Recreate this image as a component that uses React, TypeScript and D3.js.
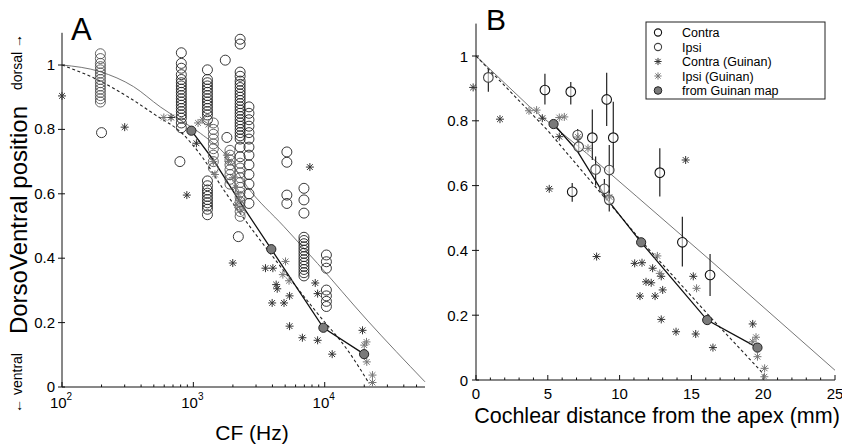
import { useEffect, useRef } from "react";
import * as d3 from "d3";

// ---------- Panel A : position vs CF (Hz) ----------
// columns of open circles: cf, y values, ipsi flag
const colsA = [
  { cf: 196, ipsi: true, ys: [1.035, 1.02, 1.005, 0.995, 0.985, 0.975, 0.965, 0.955, 0.945, 0.935, 0.925, 0.915, 0.905, 0.895, 0.885] },
  { cf: 200, ipsi: false, ys: [0.79] },
  { cf: 810, ipsi: false, ys: [1.038, 1.005, 0.99, 0.97, 0.955, 0.945, 0.935, 0.925, 0.915, 0.905, 0.895, 0.885, 0.875, 0.865, 0.855, 0.845, 0.835, 0.82, 0.805] },
  { cf: 790, ipsi: false, ys: [0.7] },
  { cf: 1280, ipsi: false, ys: [0.985, 0.955, 0.945, 0.935, 0.925, 0.915, 0.905, 0.895, 0.885, 0.875, 0.865, 0.855, 0.845, 0.83] },
  { cf: 1280, ipsi: false, ys: [0.64, 0.625, 0.612, 0.602, 0.592, 0.582, 0.572, 0.562, 0.552, 0.535] },
  { cf: 1420, ipsi: true, ys: [0.82, 0.8, 0.785, 0.77, 0.755, 0.74, 0.72, 0.7, 0.68] },
  { cf: 1750, ipsi: false, ys: [1.015] },
  { cf: 1800, ipsi: false, ys: [0.775] },
  { cf: 1900, ipsi: true, ys: [0.735, 0.72, 0.705, 0.69, 0.675, 0.66, 0.645, 0.63] },
  { cf: 2270, ipsi: false, ys: [1.08, 1.065, 0.978, 0.965, 0.95, 0.94, 0.93, 0.92, 0.91, 0.9, 0.89, 0.88, 0.87, 0.86, 0.85, 0.84, 0.83, 0.82, 0.81, 0.8, 0.79, 0.78, 0.77, 0.745, 0.715] },
  { cf: 2270, ipsi: true, ys: [0.695, 0.68, 0.665, 0.65, 0.635, 0.62, 0.605, 0.59, 0.575, 0.56, 0.545, 0.53] },
  { cf: 2200, ipsi: false, ys: [0.467] },
  { cf: 2650, ipsi: false, ys: [0.87, 0.85, 0.83, 0.81, 0.79, 0.77, 0.745, 0.72, 0.69, 0.66, 0.63, 0.6, 0.57] },
  { cf: 5150, ipsi: false, ys: [0.73, 0.698, 0.596, 0.57] },
  { cf: 6950, ipsi: false, ys: [0.617, 0.581, 0.54, 0.465, 0.455, 0.445, 0.435, 0.425, 0.415, 0.405, 0.395, 0.385, 0.375, 0.365, 0.355, 0.345] },
  { cf: 10300, ipsi: false, ys: [0.41, 0.389, 0.369, 0.301, 0.283, 0.266, 0.25] },
];

const guinanContraA: [number, number][] = [
  [100, 0.904], [300, 0.807], [676, 0.837], [892, 0.596], [1055, 0.757], [1995, 0.385],
  [3540, 0.369], [4030, 0.369], [4270, 0.318], [4350, 0.305], [3980, 0.261], [4900, 0.261],
  [5400, 0.283], [8470, 0.323], [8830, 0.29], [5400, 0.189], [6760, 0.153], [8830, 0.145],
  [11400, 0.102], [7710, 0.683], [19400, 0.176],
];
const guinanIpsiA: [number, number][] = [
  [596, 0.837], [1086, 0.82], [1180, 0.83], [1300, 0.815], [1420, 0.7], [1460, 0.66],
  [1800, 0.72], [1850, 0.7], [2000, 0.65], [2100, 0.62], [2200, 0.6], [2250, 0.58],
  [2300, 0.55], [2150, 0.565], [5030, 0.39], [4800, 0.349], [5350, 0.33], [20800, 0.14],
  [20000, 0.13], [20900, 0.078], [23100, 0.037], [23100, 0.014],
];
const mapDotsA: [number, number][] = [[966, 0.796], [3920, 0.428], [9770, 0.184], [19950, 0.102]];
const solidLineA: [number, number][] = [[966, 0.796], [1420, 0.705], [2300, 0.57], [3920, 0.428], [9770, 0.184], [19950, 0.102]];
const dashedLineA: [number, number][] = [
  [100, 1.0], [189, 0.953], [321, 0.9], [513, 0.845], [820, 0.788], [1164, 0.715],
  [1704, 0.612], [4900, 0.36], [8790, 0.229], [14900, 0.115], [21800, 0.011],
];
const thinLineA: [number, number][] = [
  [100, 1.0], [196, 0.979], [350, 0.933], [560, 0.87], [795, 0.829], [1130, 0.788],
  [1810, 0.715], [2570, 0.622], [4900, 0.498], [8800, 0.384], [21000, 0.208], [58000, 0.016],
];

// ---------- Panel B : position vs cochlear distance (mm) ----------
// x, y, error low, error high
const contraB: [number, number, number, number][] = [
  [4.8, 0.895, 0.85, 0.945], [6.6, 0.89, 0.85, 0.92], [9.1, 0.866, 0.784, 0.948],
  [8.1, 0.748, 0.679, 0.835], [9.56, 0.748, 0.638, 0.859], [12.8, 0.64, 0.566, 0.715],
  [14.37, 0.425, 0.35, 0.504], [16.3, 0.324, 0.259, 0.389], [6.7, 0.581, 0.55, 0.608],
];
const ipsiB: [number, number, number, number][] = [
  [0.86, 0.934, 0.89, 0.96], [7.08, 0.756, 0.735, 0.775], [7.15, 0.72, 0.7, 0.74],
  [8.33, 0.65, 0.6, 0.69], [9.28, 0.648, 0.576, 0.725], [8.94, 0.59, 0.56, 0.62],
  [9.28, 0.556, 0.52, 0.6],
];
const guinanContraB: [number, number][] = [
  [-0.2, 0.903], [1.67, 0.805], [5.1, 0.59], [8.4, 0.381], [11.05, 0.36], [11.56, 0.362],
  [12.3, 0.345], [11.84, 0.303], [12.2, 0.3], [11.42, 0.259], [12.47, 0.259], [13.0, 0.278],
  [12.9, 0.32], [15.13, 0.32], [12.9, 0.187], [13.93, 0.149], [15.3, 0.142], [16.5, 0.1],
  [14.6, 0.679], [19.27, 0.173], [5.8, 0.751], [4.62, 0.808],
];
const guinanIpsiB: [number, number][] = [
  [3.69, 0.831], [4.22, 0.833], [5.8, 0.81], [6.15, 0.812], [7.8, 0.715], [12.63, 0.383],
  [12.8, 0.329], [15.36, 0.283], [19.5, 0.132], [19.27, 0.118], [19.6, 0.072], [20.1, 0.036],
  [20.08, 0.01], [9.3, 0.565], [7.1, 0.75],
];
const mapDotsB: [number, number][] = [[5.4, 0.79], [11.5, 0.425], [16.1, 0.185], [19.6, 0.1]];
const solidLineB: [number, number][] = [[5.4, 0.79], [7.0, 0.71], [9.1, 0.56], [11.5, 0.425], [16.1, 0.185], [19.6, 0.1]];
const dashedLineB: [number, number][] = [[0, 1.0], [5, 0.77], [11.5, 0.43], [16.2, 0.2], [20.1, 0.015]];
const thinLineB: [number, number][] = [[0, 1.0], [3.7, 0.845], [7.7, 0.7], [11.2, 0.566], [16.3, 0.37], [25, 0.03]];

const yTicks = [0, 0.2, 0.4, 0.6, 0.8, 1];
const yTickLabels = ["0", "0.2", "0.4", "0.6", "0.8", "1"];
const xDecadesA = [100, 1000, 10000];
const xDecadeExp = ["2", "3", "4"];
const xTicksB = [0, 5, 10, 15, 20, 25];
const legendLabels = ["Contra", "Ipsi", "Contra (Guinan)", "Ipsi (Guinan)", "from Guinan map"];

const FONT = "'Liberation Sans', Arial, Helvetica, sans-serif";

function asterisk(cx: number, cy: number, r: number) {
  const d = r * 0.72;
  return `M${cx - r},${cy}h${2 * r}M${cx},${cy - r}v${2 * r}M${cx - d},${cy - d}l${2 * d},${2 * d}M${cx - d},${cy + d}l${2 * d},${-2 * d}`;
}

export default function App() {
  const ref = useRef<SVGSVGElement>(null);

  useEffect(() => {
    const svg = d3.select(ref.current);
    svg.selectAll("*").remove();
    svg.attr("font-family", FONT);

    const xA = d3.scaleLog().domain([100, 58000]).range([62, 425]);
    const yA = d3.scaleLinear().domain([0, 1.1]).range([387, 32.8]);
    const xB = d3.scaleLinear().domain([0, 25]).range([476, 835]);
    const yB = d3.scaleLinear().domain([0, 1.1]).range([380, 23.6]);

    // ---- axes A ----
    const gA = svg.append("g");
    gA.append("line").attr("x1", 62).attr("x2", 62).attr("y1", yA(1.1)).attr("y2", yA(0)).attr("stroke", "#111");
    gA.append("line").attr("x1", 62).attr("x2", 425).attr("y1", yA(0)).attr("y2", yA(0)).attr("stroke", "#111");
    yTicks.forEach((t, i) => {
      gA.append("line").attr("x1", 58).attr("x2", 65).attr("y1", yA(t)).attr("y2", yA(t)).attr("stroke", "#111");
      gA.append("text").attr("x", 55).attr("y", yA(t) + 5).attr("text-anchor", "end")
        .attr("font-size", 15).text(yTickLabels[i]);
    });
    const minorA: number[] = [];
    [100, 1000, 10000].forEach((dec) => {
      for (let k = 2; k <= 9; k++) if (dec * k <= 58000) minorA.push(dec * k);
    });
    minorA.forEach((t) => {
      gA.append("line").attr("x1", xA(t)).attr("x2", xA(t)).attr("y1", yA(0)).attr("y2", yA(0) - 2.5).attr("stroke", "#111");
    });
    xDecadesA.forEach((t, i) => {
      gA.append("line").attr("x1", xA(t)).attr("x2", xA(t)).attr("y1", yA(0)).attr("y2", yA(0) - 5).attr("stroke", "#111");
      const tx = gA.append("text").attr("x", xA(t) - 1).attr("y", 408).attr("text-anchor", "middle").attr("font-size", 15);
      tx.append("tspan").text("10");
      tx.append("tspan").attr("font-size", 10).attr("dy", -8).text(xDecadeExp[i]);
    });
    gA.append("text").attr("x", 252).attr("y", 440).attr("text-anchor", "middle").attr("font-size", 21).text("CF (Hz)");
    gA.append("text").attr("transform", "translate(27,220) rotate(-90)").attr("text-anchor", "middle")
      .attr("font-size", 24).text("DorsoVentral position");
    gA.append("text").attr("transform", "translate(22,62) rotate(-90)").attr("text-anchor", "middle")
      .attr("font-size", 14).text("dorsal \u2192");
    gA.append("text").attr("transform", "translate(22,383) rotate(-90)").attr("text-anchor", "middle")
      .attr("font-size", 14).text("\u2190 ventral");
    gA.append("text").attr("x", 71).attr("y", 40).attr("font-size", 31).text("A");

    // ---- axes B ----
    const gB = svg.append("g");
    gB.append("line").attr("x1", 476).attr("x2", 476).attr("y1", yB(1.1)).attr("y2", yB(0)).attr("stroke", "#111");
    gB.append("line").attr("x1", 476).attr("x2", 835).attr("y1", yB(0)).attr("y2", yB(0)).attr("stroke", "#111");
    yTicks.forEach((t, i) => {
      gB.append("line").attr("x1", 472).attr("x2", 479).attr("y1", yB(t)).attr("y2", yB(t)).attr("stroke", "#111");
      gB.append("text").attr("x", 468).attr("y", yB(t) + 5.5).attr("text-anchor", "end")
        .attr("font-size", 15).text(yTickLabels[i]);
    });
    d3.range(0, 26).forEach((t) => {
      gB.append("line").attr("x1", xB(t)).attr("x2", xB(t)).attr("y1", yB(0)).attr("y2", yB(0) - (t % 5 === 0 ? 5 : 2.5)).attr("stroke", "#111");
    });
    xTicksB.forEach((t) => {
      gB.append("text").attr("x", xB(t)).attr("y", 399).attr("text-anchor", "middle").attr("font-size", 15).text(String(t));
    });
    gB.append("text").attr("x", 657).attr("y", 423).attr("text-anchor", "middle").attr("font-size", 21.5)
      .text("Cochlear distance from the apex (mm)");
    gB.append("text").attr("x", 486).attr("y", 30).attr("font-size", 30).text("B");

    // ---- lines ----
    const lineA = d3.line<[number, number]>().x((d) => xA(d[0])).y((d) => yA(d[1])).curve(d3.curveMonotoneX);
    const lineB = d3.line<[number, number]>().x((d) => xB(d[0])).y((d) => yB(d[1]));
    const lineAStraight = d3.line<[number, number]>().x((d) => xA(d[0])).y((d) => yA(d[1]));
    const drawLines = (g: any, line: any, lineSolid: any, thin: [number, number][], dashed: [number, number][], solid: [number, number][]) => {
      g.append("path").attr("d", line(thin)).attr("fill", "none").attr("stroke", "#666").attr("stroke-width", 0.9);
      g.append("path").attr("d", line(dashed)).attr("fill", "none").attr("stroke", "#222").attr("stroke-width", 1.1).attr("stroke-dasharray", "3,2.5");
      g.append("path").attr("d", lineSolid(solid)).attr("fill", "none").attr("stroke", "#111").attr("stroke-width", 1.3);
    };
    drawLines(gA, lineA, lineAStraight, thinLineA, dashedLineA, solidLineA);
    drawLines(gB, lineB, lineB, thinLineB, dashedLineB, solidLineB);

    // ---- panel A circles ----
    colsA.forEach((col) => {
      col.ys.forEach((y) => {
        gA.append("circle").attr("cx", xA(col.cf)).attr("cy", yA(y)).attr("r", 5)
          .attr("fill", "none").attr("stroke", col.ipsi ? "#555" : "#222").attr("stroke-width", 0.9);
      });
    });

    // ---- panel B circles with error bars ----
    const drawErr = (arr: [number, number, number, number][], color: string) => {
      arr.forEach(([x, , lo, hi]) => {
        gB.append("line").attr("x1", xB(x)).attr("x2", xB(x)).attr("y1", yB(lo)).attr("y2", yB(hi))
          .attr("stroke", "#222").attr("stroke-width", 1.2);
      });
      arr.forEach(([x, y]) => {
        gB.append("circle").attr("cx", xB(x)).attr("cy", yB(y)).attr("r", 4.8)
          .attr("fill", "white").attr("fill-opacity", 0.6).attr("stroke", color).attr("stroke-width", 1.1);
      });
    };
    drawErr(contraB, "#111");
    drawErr(ipsiB, "#444");

    // ---- asterisks ----
    const drawAst = (g: any, pts: [number, number][], x: any, y: any, color: string) => {
      pts.forEach(([a, b]) => {
        g.append("path").attr("d", asterisk(x(a), y(b), 4)).attr("stroke", color).attr("stroke-width", 1).attr("fill", "none");
      });
    };
    drawAst(gA, guinanContraA, xA, yA, "#333");
    drawAst(gA, guinanIpsiA, xA, yA, "#777");
    drawAst(gB, guinanContraB, xB, yB, "#333");
    drawAst(gB, guinanIpsiB, xB, yB, "#777");

    // ---- Guinan map dots ----
    mapDotsA.forEach(([a, b]) => {
      gA.append("circle").attr("cx", xA(a)).attr("cy", yA(b)).attr("r", 4.6).attr("fill", "#7a7a7a").attr("stroke", "#222").attr("stroke-width", 1);
    });
    mapDotsB.forEach(([a, b]) => {
      gB.append("circle").attr("cx", xB(a)).attr("cy", yB(b)).attr("r", 4.6).attr("fill", "#7a7a7a").attr("stroke", "#222").attr("stroke-width", 1);
    });

    // ---- legend ----
    const lg = svg.append("g");
    lg.append("rect").attr("x", 646).attr("y", 22).attr("width", 179).attr("height", 77)
      .attr("fill", "white").attr("stroke", "#222").attr("stroke-width", 1);
    legendLabels.forEach((lab, i) => {
      const by = 37 + i * 14.5;
      const cy = by - 4.5;
      if (i === 0 || i === 1) {
        lg.append("circle").attr("cx", 658).attr("cy", cy).attr("r", 3.6).attr("fill", "none")
          .attr("stroke", i === 0 ? "#111" : "#444").attr("stroke-width", 1.1);
      } else if (i === 2 || i === 3) {
        lg.append("path").attr("d", asterisk(658, cy, 3.6)).attr("stroke", i === 2 ? "#333" : "#777").attr("stroke-width", 1).attr("fill", "none");
      } else {
        lg.append("circle").attr("cx", 658).attr("cy", cy).attr("r", 3.8).attr("fill", "#7a7a7a").attr("stroke", "#222");
      }
      lg.append("text").attr("x", 682).attr("y", by).attr("font-size", 12.5).text(lab);
    });
  }, []);

  return (
    <svg ref={ref} width={842} height={446} style={{ position: "absolute", left: 0, top: 0, background: "white" }} />
  );
}
